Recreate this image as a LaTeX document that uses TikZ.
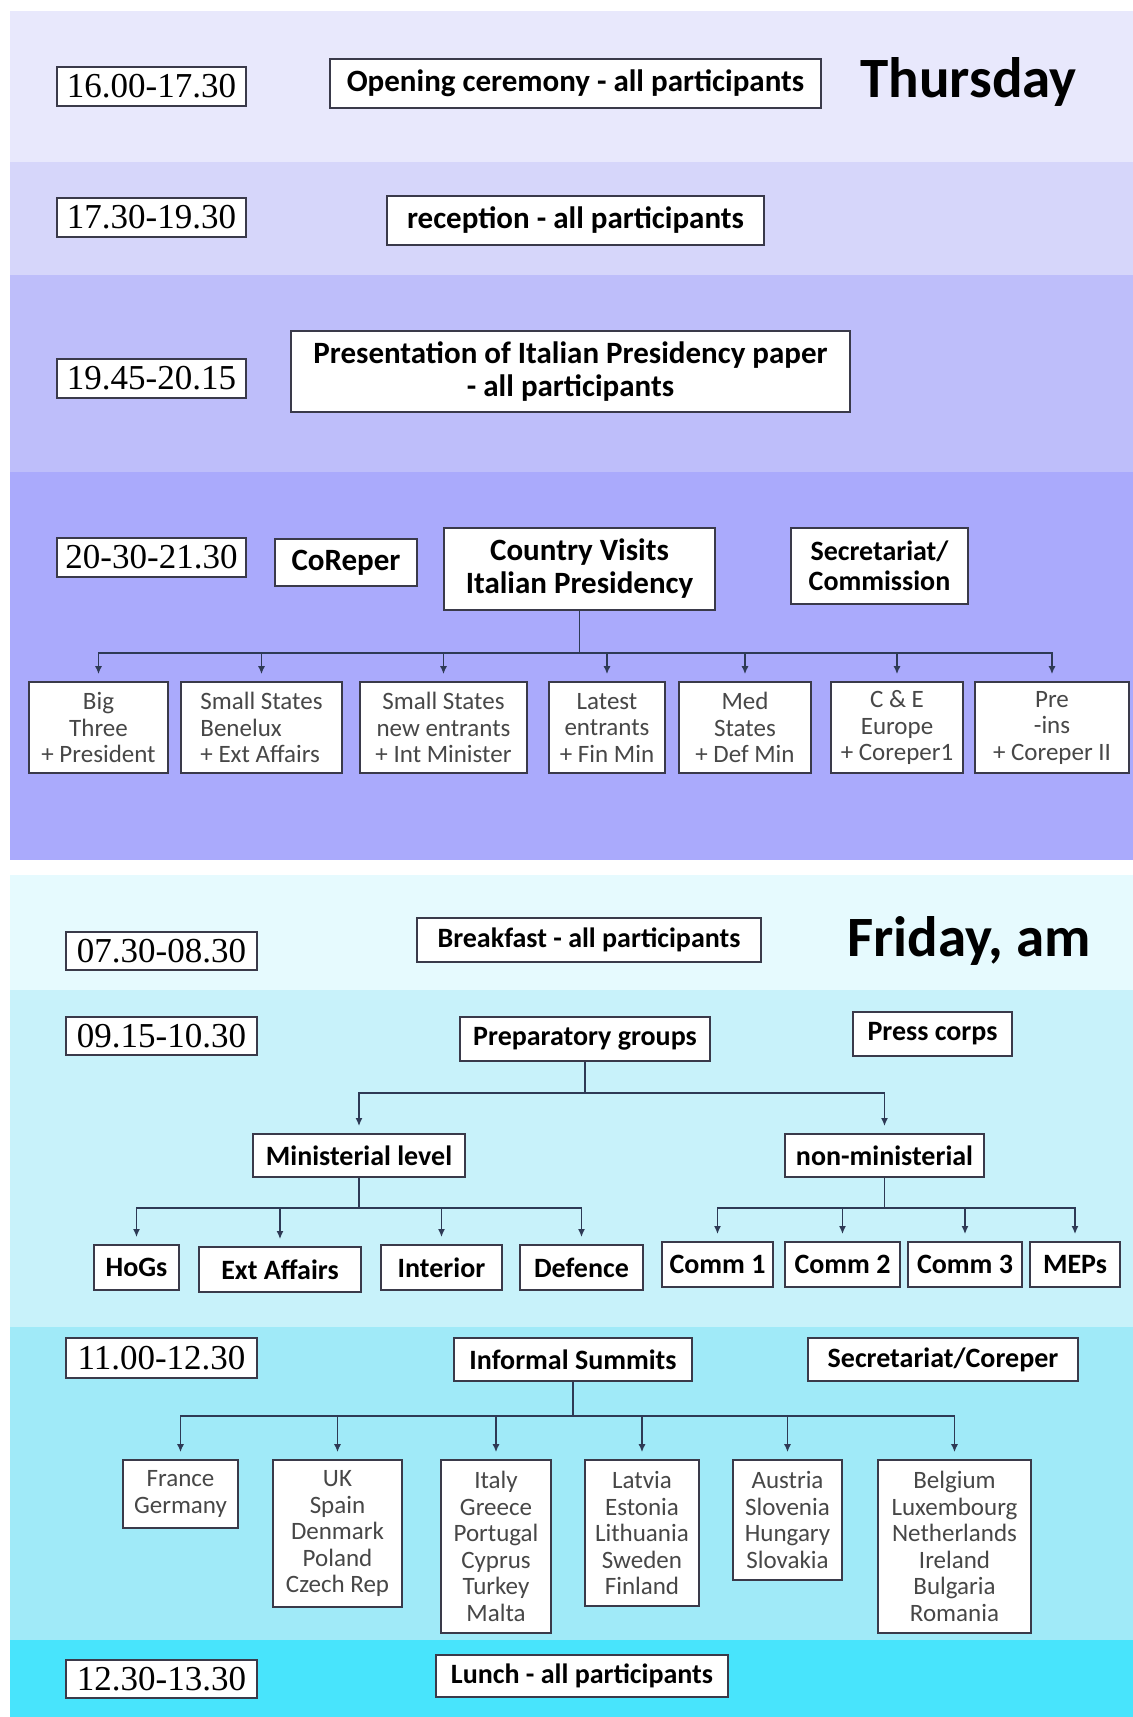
\documentclass[tikz,border=0pt]{standalone}
\usepackage{fontspec}
\setmainfont{Carlito}
\newfontfamily\timefont{Liberation Serif}
\usetikzlibrary{arrows.meta, positioning, calc}
\definecolor{thuA}{HTML}{E8E8FC}
\definecolor{thuB}{HTML}{D6D6FA}
\definecolor{thuC}{HTML}{BEBEFA}
\definecolor{thuD}{HTML}{AAAAFC}
\definecolor{friA}{HTML}{E6FAFE}
\definecolor{friB}{HTML}{C8F2FA}
\definecolor{friC}{HTML}{A0EAF8}
\definecolor{friD}{HTML}{48E4FC}
\definecolor{boxline}{HTML}{3A3A4A}
\definecolor{linkcol}{HTML}{2E3A55}
\tikzset{
	sz/.style 2 args={minimum width=#1, minimum height=#2},
	timebox/.style={draw=boxline, line width=1.8pt, fill=white, inner sep=0pt, font=\timefont\fontsize{35}{38}\selectfont},
	headbox/.style={draw=boxline, line width=1.8pt, fill=white, inner sep=0pt, align=center, font=\bfseries\fontsize{31}{33}\selectfont},
	fribox/.style={headbox, font=\bfseries\fontsize{28}{30}\selectfont},
	subbox/.style={draw=boxline, line width=1.6pt, fill=white, inner sep=0pt, align=center, text=black!72, font=\fontsize{25}{26.5}\selectfont},
	dayname/.style={anchor=base, font=\bfseries\fontsize{57}{60}\selectfont},
	link/.style={draw=linkcol, line width=1.6pt, -{Latex[length=8pt,width=7pt]}, shorten >=7pt}
}

\begin{document}
\begin{tikzpicture}[x=1pt, y=-1pt]
		\useasboundingbox (0,0) rectangle (1133,1717);
		\fill[white] (0,0) rectangle (1133,1717);
		% Thursday
		\fill[thuA] (10,11) rectangle (1133,162);
		\fill[thuB] (10,162) rectangle (1133,275);
		\fill[thuC] (10,275) rectangle (1133,472);
		\fill[thuD] (10,472) rectangle (1133,860);
		
		\node[timebox, sz={189}{39}] (t1) at (151.5,86.5) {16.00-17.30};
		\node[headbox, sz={491}{49}] (open) at (575.5,83.5) {Opening ceremony - all participants};
		\node[dayname] (thu) at (968.5,97) {Thursday};
		\node[timebox, sz={189}{39}] (t2) at (151.5,217.5) {17.30-19.30};
		\node[headbox, sz={377}{49}] (recep) at (575.5,220.5) {reception - all participants};
		\node[timebox, sz={189}{39}] (t3) at (151.5,378.5) {19.45-20.15};
		\node[headbox, sz={559}{81}] (pres) at (570.5,371.5) {Presentation of Italian Presidency paper\\- all participants};
		\node[timebox, sz={189}{39}] (t4) at (151.5,557.5) {20-30-21.30};
		\node[headbox, sz={142}{47}] (corep) at (346,562.5) {CoReper};
		\node[headbox, sz={271}{82}] (cv) at (579.5,569) {Country Visits\\Italian Presidency};
		\node[fribox, sz={177}{76}] (secr) at (879.5,566) {Secretariat/\\Commission};
		
		\node[subbox, sz={139}{91}] (big) at (98.5,727.5) {Big\\Three\\+ President};
		\node[subbox, sz={161}{91}, align=left] (bene) at (261.5,727.5) {Small States\\Benelux\\+ Ext Affairs};
		\node[subbox, sz={167}{91}] (newent) at (443.5,727.5) {Small States\\new entrants\\+ Int Minister};
		\node[subbox, sz={116}{91}] (latest) at (607,727.5) {Latest\\entrants\\+ Fin Min};
		\node[subbox, sz={132}{91}] (med) at (745,727.5) {Med\\States\\+ Def Min};
		\node[subbox, sz={132}{91}] (cee) at (897,727.5) {C \& E\\Europe\\+ Coreper1};
		\node[subbox, sz={154}{91}] (preins) at (1052,727.5) {Pre\\-ins\\+ Coreper II};
		
		\coordinate (cvbar) at ([yshift=-42pt]cv.south);
		\foreach \c in {big,bene,newent,latest,med,cee,preins}
			\draw[link] (cv.south) -- (cvbar) -| (\c.north);
		
		% Friday
		\fill[friA] (10,875) rectangle (1133,990);
		\fill[friB] (10,990) rectangle (1133,1327);
		\fill[friC] (10,1327) rectangle (1133,1640);
		\fill[friD] (10,1640) rectangle (1133,1717);
		
		\node[timebox, sz={191}{38}] (f1) at (161.5,951) {07.30-08.30};
		\node[fribox, sz={344}{44}] (bfast) at (589,940) {Breakfast - all participants};
		\node[dayname] (fri) at (969,956) {Friday, am};
		\node[timebox, sz={191}{38}] (f2) at (161.5,1036) {09.15-10.30};
		\node[fribox, sz={250}{44}] (prep) at (585,1039) {Preparatory groups};
		\node[fribox, sz={159}{44}] (press) at (932.5,1034) {Press corps};
		\node[fribox, sz={212}{43}] (mini) at (359,1155.5) {Ministerial level};
		\node[fribox, sz={199}{43}] (nonmin) at (884.5,1155.5) {non-ministerial};
		
		\node[fribox, sz={85}{45}] (hogs) at (136.5,1267.5) {HoGs};
		\node[fribox, sz={162}{45}] (ext) at (280,1269.5) {Ext Affairs};
		\node[fribox, sz={121}{45}] (inter) at (441.5,1267.5) {Interior};
		\node[fribox, sz={123}{45}] (def) at (581.5,1267.5) {Defence};
		\node[fribox, sz={111}{45}] (comm1) at (717.5,1264.5) {Comm 1};
		\node[fribox, sz={115}{45}] (comm2) at (842.5,1264.5) {Comm 2};
		\node[fribox, sz={114}{45}] (comm3) at (965,1264.5) {Comm 3};
		\node[fribox, sz={90}{45}] (meps) at (1075,1264.5) {MEPs};
		
		\coordinate (prepbar) at ([yshift=-31pt]prep.south);
		\foreach \c in {mini,nonmin}
			\draw[link] (prep.south) -- (prepbar) -| (\c.north);
		\coordinate (minibar) at ([yshift=-30pt]mini.south);
		\foreach \c in {hogs,ext,inter,def}
			\draw[link] (mini.south) -- (minibar) -| (\c.north);
		\coordinate (nonminbar) at ([yshift=-30pt]nonmin.south);
		\foreach \c in {comm1,comm2,comm3,meps}
			\draw[link] (nonmin.south) -- (nonminbar) -| (\c.north);
		
		\node[timebox, sz={191}{40}] (f3) at (161.5,1358) {11.00-12.30};
		\node[fribox, sz={238}{43}] (summ) at (573,1359.5) {Informal Summits};
		\node[fribox, sz={270}{43}] (secc) at (943,1359.5) {Secretariat/Coreper};
		
		\node[subbox, sz={115}{68}] (fr) at (180.5,1494) {France\\Germany};
		\node[subbox, sz={129}{147}] (uk) at (337.5,1533.5) {UK\\Spain\\Denmark\\Poland\\Czech Rep};
		\node[subbox, sz={110}{173}] (it) at (496,1546.5) {Italy\\Greece\\Portugal\\Cyprus\\Turkey\\Malta};
		\node[subbox, sz={114}{146}] (lv) at (642,1533) {Latvia\\Estonia\\Lithuania\\Sweden\\Finland};
		\node[subbox, sz={109}{120}] (at) at (787.5,1520) {Austria\\Slovenia\\Hungary\\Slovakia};
		\node[subbox, sz={153}{173}] (be) at (954.5,1546.5) {Belgium\\Luxembourg\\Netherlands\\Ireland\\Bulgaria\\Romania};
		
		\coordinate (summbar) at ([yshift=-34pt]summ.south);
		\foreach \c in {fr,uk,it,lv,at,be}
			\draw[link] (summ.south) -- (summbar) -| (\c.north);
		
		\node[timebox, sz={191}{38}] (f4) at (161.5,1679) {12.30-13.30};
		\node[fribox, sz={292}{42}] (lunch) at (582,1676) {Lunch - all participants};
\end{tikzpicture}
\end{document}
